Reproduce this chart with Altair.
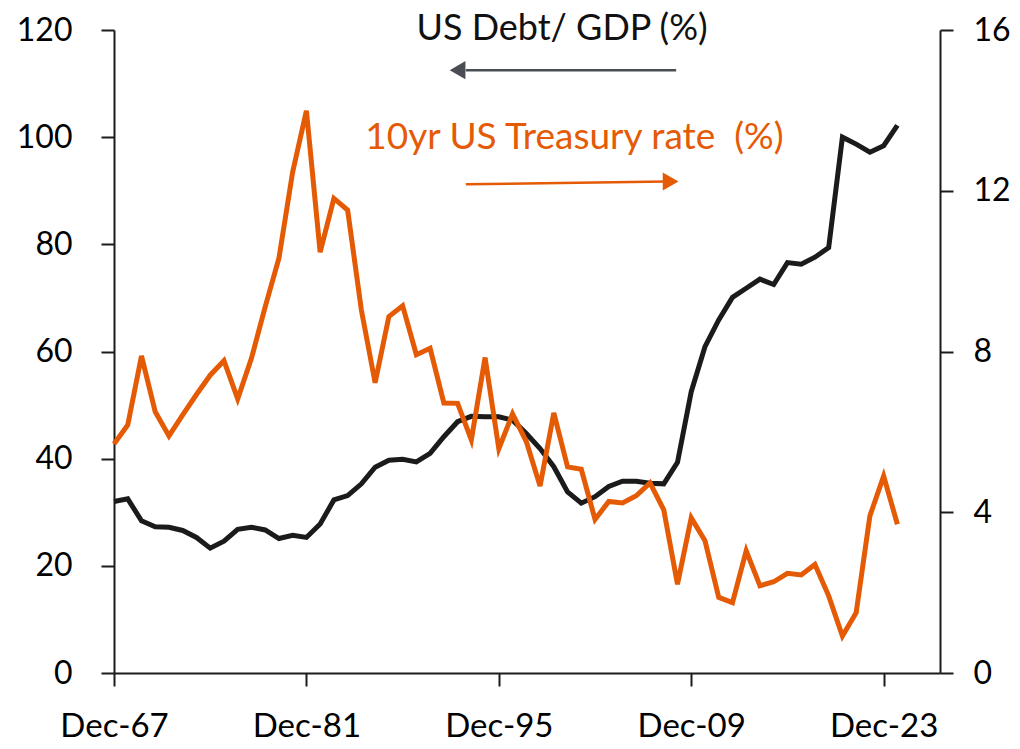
import altair as alt
import pandas as pd

# ---- data ----
years = list(range(1967, 2025))
debt_gdp = [32.0, 32.5, 28.4, 27.3, 27.2, 26.6, 25.3, 23.3, 24.6, 26.8,
            27.2, 26.7, 25.1, 25.7, 25.3, 27.8, 32.3, 33.1, 35.3, 38.4,
            39.7, 39.9, 39.4, 41.0, 44.1, 46.9, 47.9, 47.8, 47.8, 47.2,
            44.7, 41.9, 38.5, 33.8, 31.7, 32.9, 34.8, 35.8, 35.8, 35.4,
            35.3, 39.3, 52.5, 60.9, 65.9, 70.1, 71.8, 73.5, 72.5, 76.6,
            76.3, 77.6, 79.4, 100.0, 98.7, 97.2, 98.4, 102.2]
treasury_10y = [5.70, 6.17, 7.89, 6.50, 5.90, 6.42, 6.93, 7.41, 7.77, 6.82,
                7.83, 9.11, 10.32, 12.47, 13.99, 10.47, 11.81, 11.52, 9.03, 7.22,
                8.87, 9.14, 7.92, 8.08, 6.72, 6.71, 5.80, 7.85, 5.58, 6.45,
                5.76, 4.65, 6.47, 5.13, 5.07, 3.82, 4.27, 4.23, 4.41, 4.73,
                4.06, 2.21, 3.86, 3.29, 1.88, 1.75, 3.04, 2.17, 2.27, 2.48,
                2.44, 2.70, 1.92, 0.92, 1.50, 3.91, 4.90, 3.70]

x_ticks = [1967, 1981, 1995, 2009, 2023]
left_ticks = [0, 20, 40, 60, 80, 100, 120]
right_ticks = [0, 4, 8, 12, 16]

# annotations (in data units)
debt_label = ["US Debt/ GDP (%)"]
debt_label_pos = [1999.6, 118.1]
debt_arrow_x = [1992.6, 2007.9]
debt_arrow_y = [112.5, 112.5]
debt_head = [1992.0, 112.5]

rate_label = ["10yr US Treasury rate \u00a0(%)"]
rate_label_pos = [2000.5, 13.05]
rate_arrow_x = [1992.6, 2007.2]
rate_arrow_y = [12.16, 12.23]
rate_head = [2007.5, 12.23]

BLACK = "#1b1b1b"
ORANGE = "#E45A05"
GREY = "#4a4e54"
FONT = "Lato"

df = pd.DataFrame({"year": years, "debt": debt_gdp, "rate": treasury_10y})

xscale = alt.Scale(domain=[1967, 2027.1], nice=False, zero=False)
xaxis = alt.Axis(values=x_ticks, labelExpr="'Dec-' + slice(toString(datum.value), 2)",
                 title=None, labelPadding=24, labelFontSize=33, labelFlush=False, labelOverlap=False)


def X(field):
    return alt.X(f"{field}:Q", scale=xscale, axis=xaxis)


lscale = alt.Scale(domain=[0, 120], nice=False, zero=True)
laxis = alt.Axis(values=left_ticks, orient="left", title=None, labelPadding=29)
rscale = alt.Scale(domain=[0, 16], nice=False, zero=True)
raxis = alt.Axis(values=right_ticks, orient="right", title=None, labelPadding=20)


def YL(field):
    return alt.Y(f"{field}:Q", scale=lscale, axis=laxis)


def YR(field):
    return alt.Y(f"{field}:Q", scale=rscale, axis=raxis)


# left group
debt_line = alt.Chart(df).mark_line(color=BLACK, strokeWidth=5).encode(x=X("year"), y=YL("debt"))
darrow_df = pd.DataFrame({"ax": debt_arrow_x, "ay": debt_arrow_y})
darrow = alt.Chart(darrow_df).mark_line(color=GREY, strokeWidth=2.5).encode(x=X("ax"), y=YL("ay"))
dhead = alt.Chart(pd.DataFrame({"hx": [debt_head[0]], "hy": [debt_head[1]]})).mark_point(
    shape="triangle-left", filled=True, color=GREY, size=330, opacity=1).encode(x=X("hx"), y=YL("hy"))
dtext = alt.Chart(pd.DataFrame({"t": debt_label, "tx": [debt_label_pos[0]], "ty": [debt_label_pos[1]]})).mark_text(
    font=FONT, fontSize=36, color="#111111", align="center", baseline="alphabetic").encode(
    x=X("tx"), y=YL("ty"), text="t:N")
left = alt.layer(debt_line, darrow, dhead, dtext)

# right group
rate_line = alt.Chart(df).mark_line(color=ORANGE, strokeWidth=5).encode(x=X("year"), y=YR("rate"))
rarrow_df = pd.DataFrame({"ax": rate_arrow_x, "ay": rate_arrow_y})
rarrow = alt.Chart(rarrow_df).mark_line(color=ORANGE, strokeWidth=2.5).encode(x=X("ax"), y=YR("ay"))
rhead = alt.Chart(pd.DataFrame({"hx": [rate_head[0]], "hy": [rate_head[1]]})).mark_point(
    shape="triangle-right", filled=True, color=ORANGE, size=330, opacity=1).encode(x=X("hx"), y=YR("hy"))
rtext = alt.Chart(pd.DataFrame({"t": rate_label, "tx": [rate_label_pos[0]], "ty": [rate_label_pos[1]]})).mark_text(
    font=FONT, fontSize=37, color=ORANGE, align="center", baseline="alphabetic").encode(
    x=X("tx"), y=YR("ty"), text="t:N")
right = alt.layer(rate_line, rarrow, rhead, rtext)

chart = alt.layer(left, right).resolve_scale(y="independent").properties(
    width=826, height=643,
    padding={"left": 106, "top": 22, "right": 72, "bottom": 68},
    autosize=alt.AutoSizeParams(type="none"),
).configure_view(stroke=None).configure_axis(
    grid=False, domainColor=BLACK, domainWidth=2, tickColor=BLACK, tickWidth=2, tickSize=13,
    labelFont=FONT, labelFontSize=32, labelColor="#000000",
)

chart.save("out.html", embed_options={"renderer": "svg", "actions": False})
